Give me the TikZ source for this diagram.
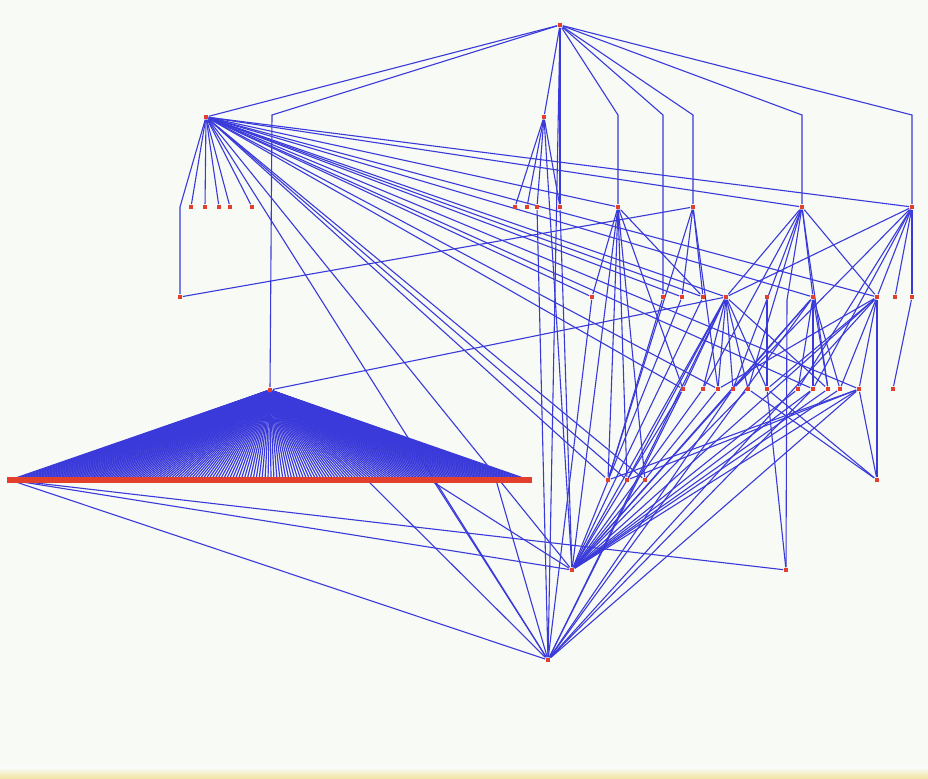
\documentclass[tikz,border=0pt]{standalone}
\usepackage{xcolor}
\definecolor{grbg}{HTML}{F7FAF5}
\definecolor{grline}{HTML}{3A3ADA}
\definecolor{grred}{HTML}{E2402C}
\definecolor{grstrip}{HTML}{F1E39C}
\usepackage{tikz}
\usetikzlibrary{calc}
\pgfdeclarelayer{bg}
\pgfdeclarelayer{links}
\pgfsetlayers{bg,links,main}
\tikzset{
  grdot/.style={rectangle,fill=grred,inner sep=0pt,minimum size=2.4pt},
  growdot/.style={rectangle,fill=grred,inner sep=0pt,minimum width=3pt,minimum height=2.6pt},
  grlink/.style={draw=grline,line width=0.55pt},
  grfan/.style={draw=grline,line width=0.6pt},
}

\begin{document}
\begin{tikzpicture}[x=0.5pt,y=-0.5pt]
\begin{pgfonlayer}{bg}
\fill[grbg] (0,0) rectangle (928,779);
\shade[top color=grbg,bottom color=grstrip] (0,768) rectangle (928,779);
\end{pgfonlayer}
\useasboundingbox (0,0) rectangle (928,779);
% top and hubs
\node[grdot] (root) at (560,25) {};
\node[grdot] (hubA) at (206,117) {};
\node[grdot] (hubB) at (544,117) {};
% bends
\coordinate (kT) at (272,115);
\coordinate (k1) at (618,115);
\coordinate (k2) at (663,115);
\coordinate (k3) at (693,115);
\coordinate (k4) at (802,115);
\coordinate (k5) at (912,115);
\coordinate (kn) at (180,207);
\coordinate (ku) at (787,300);
% level 2
\foreach \n/\x in {a1/191,a2/205,a3/219,a4/230,a5/252,b1/515,b2/527,b3/537,b4/560,c1/618,c2/693,c3/802,c4/912}
  \node[grdot] (\n) at (\x,207) {};
% level 3
\foreach \n/\x in {d0/180,d1/592,d2/663,d3/682,d4/703,d5/726,d6/767,d7/813,d8/877,d9/895,d10/912}
  \node[grdot] (\n) at (\x,297) {};
% level 4
\node[grdot] (tri) at (270,390) {};
\foreach \n/\x in {e1/683,e2/703,e3/718,e4/733,e5/748,e6/767,e7/798,e8/813,e9/828,e10/840,e11/859,e12/893}
  \node[grdot] (\n) at (\x,389) {};
% level 5
\foreach \i in {0,...,173}
  \node[growdot] (row\i) at (10+3*\i,480) {};
\foreach \n/\x in {f1/608,f2/627,f3/645,f4/877}
  \node[grdot] (\n) at (\x,480) {};
% bottom
\node[grdot] (s) at (572,570) {};
\node[grdot] (u) at (786,570) {};
\node[grdot] (v) at (548,660) {};

\begin{pgfonlayer}{links}
\draw[grlink] (root) -- (kT) -- (tri);
\draw[grlink] (root) -- (k1) -- (c1);
\draw[grlink] (root) -- (k2) -- (d2);
\draw[grlink] (root) -- (k3) -- (c2);
\draw[grlink] (root) -- (k4) -- (c3);
\draw[grlink] (root) -- (k5) -- (c4);
\draw[grlink] (hubA) -- (kn) -- (d0);
\draw[grlink] (c3) -- (ku) -- (u);
\foreach \p/\q in {root/hubA,root/hubB,root/v,root/b4,b4/s,hubB/s,b3/v,
  hubA/a1,hubA/a2,hubA/a3,hubA/a4,hubA/a5,hubB/b1,hubB/b2,hubB/b3,hubB/b4,
  hubA/c1,hubA/c3,hubA/c4,hubA/d1,hubA/d3,hubA/d4,hubA/d5,hubA/d7,hubA/d8,
  hubA/e1,hubA/e3,hubA/e8,hubA/e11,hubA/f1,hubA/f2,hubA/f3,hubA/s,hubA/v,
  d0/c2,tri/d5,
  c1/d1,c1/f1,c1/f2,c1/f3,c1/s,c1/d4,c1/e1,
  c2/f1,c2/d3,c2/d4,c2/e3,
  c3/d5,c3/e2,c3/e4,c3/e5,c3/d7,c3/d8,c3/e9,
  c4/d8,c4/d9,c4/d10,c4/d5,c4/e4,c4/e7,c4/e8,
  d5/e1,d5/e2,d5/e3,d5/e4,d5/e5,d5/e6,d5/e9,d5/s,d5/v,d5/f2,
  d7/e7,d7/e8,d7/e9,d7/e10,d7/s,d7/v,d7/e4,
  d8/f4,d8/e11,d8/e6,d8/e3,d8/s,d8/v,d8/e10,
  d10/e12,d6/e6,d4/s,d2/f1,d3/s,
  e1/s,e1/v,e2/s,e3/s,e4/s,e4/v,e5/s,e7/s,e8/s,e8/v,e9/s,e10/s,
  e11/s,e11/v,e11/f4,e11/f1,e11/f2,
  f4/e6,f4/e5,u/e6,d1/v,
  row0/u,row0/s,row0/v,row119/v,row141/v,row162/v,row140/s}
  \draw[grlink] (\p) -- (\q);
\foreach \i in {0,...,173}
  \draw[grfan] (tri) -- (row\i);
\end{pgfonlayer}
\end{tikzpicture}
\end{document}
